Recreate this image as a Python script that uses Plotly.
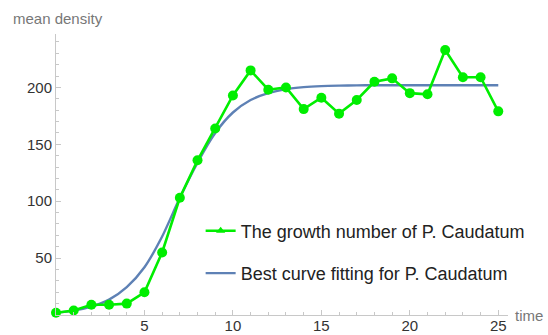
import plotly.graph_objects as go

time = list(range(0, 26))
growth = [2, 4, 9, 9, 10, 20, 55, 103, 136, 164, 193, 215, 198, 200, 181, 191,
          177, 189, 205, 208, 195, 194, 233, 209, 209, 179]
fit_time = [0, 1, 2, 3, 4, 5, 6, 7, 8, 9, 10, 11, 12, 13, 14, 15, 16, 17, 18,
            19, 20, 21, 22, 23, 24, 25]
fit_vals = [2.0, 3.8, 7.3, 13.5, 24.5, 42, 69, 103, 134, 160, 178, 189, 195,
            198.5, 200.3, 201.2, 201.6, 201.8, 202, 202, 202, 202, 202, 202, 202, 202]
x_ticks = [5, 10, 15, 20, 25]
y_ticks = [50, 100, 150, 200]

GREEN = "#00ee00"
BLUE = "#5e81b5"
AX = "#c8c8c8"

fig = go.Figure()
fig.add_trace(go.Scatter(x=fit_time, y=fit_vals, mode="lines", line=dict(color=BLUE, width=2.4, shape="spline", smoothing=0.8),
                         showlegend=False, cliponaxis=False))
fig.add_trace(go.Scatter(x=time, y=growth, mode="lines+markers", line=dict(color=GREEN, width=2.6),
                         marker=dict(symbol="circle", size=10, color=GREEN), showlegend=False, cliponaxis=False))
# legend-only entries
fig.add_trace(go.Scatter(x=[None], y=[None], mode="lines+markers", name="The growth number of P. Caudatum",
                         line=dict(color=GREEN, width=2.6), marker=dict(symbol="triangle-up", size=8, color=GREEN),
                         legendgroup="a"))
fig.add_trace(go.Scatter(x=[None], y=[None], mode="lines", name="Best curve fitting for P. Caudatum",
                         line=dict(color=BLUE, width=2.4), legendgroup="b"))

fig.update_layout(
    width=548, height=335,
    margin=dict(l=56, r=40, t=34, b=20, autoexpand=False),
    paper_bgcolor="white", plot_bgcolor="white",
    font=dict(family="Liberation Sans, Arial, sans-serif", size=15, color="#333"),
    legend=dict(x=0.32, y=0.224, xanchor="left", yanchor="middle", bgcolor="rgba(0,0,0,0)",
                font=dict(size=18, color="#222"), tracegroupgap=16, itemwidth=30),
)
fig.update_xaxes(range=[0, 25.55], showgrid=False, zeroline=False, showline=True, linecolor=AX, linewidth=1,
                 tickmode="array", tickvals=x_ticks, ticks="inside", ticklen=5, tickcolor=AX, automargin=False,
                 ticklabelstandoff=-3,
                 minor=dict(tickmode="linear", tick0=0, dtick=1, ticks="inside", ticklen=3, tickcolor=AX),
                 tickfont=dict(size=15, color="#333"))
fig.update_yaxes(range=[0, 247], showgrid=False, zeroline=False, showline=True, linecolor=AX, linewidth=1,
                 tickmode="array", tickvals=y_ticks, ticks="inside", ticklen=5, tickcolor=AX, automargin=False,
                 minor=dict(tickmode="linear", tick0=0, dtick=10, ticks="inside", ticklen=3, tickcolor=AX),
                 tickfont=dict(size=15, color="#333"))
fig.add_annotation(text="mean density", xref="paper", yref="paper", x=-0.1, y=1.0, yshift=16,
                   xanchor="left", yanchor="middle", showarrow=False, font=dict(size=15, color="#777"))
fig.add_annotation(text="time", xref="paper", yref="paper", x=1.0, y=0, xshift=5,
                   xanchor="left", yanchor="middle", showarrow=False, font=dict(size=15, color="#777"))
fig.write_html("out.html")
